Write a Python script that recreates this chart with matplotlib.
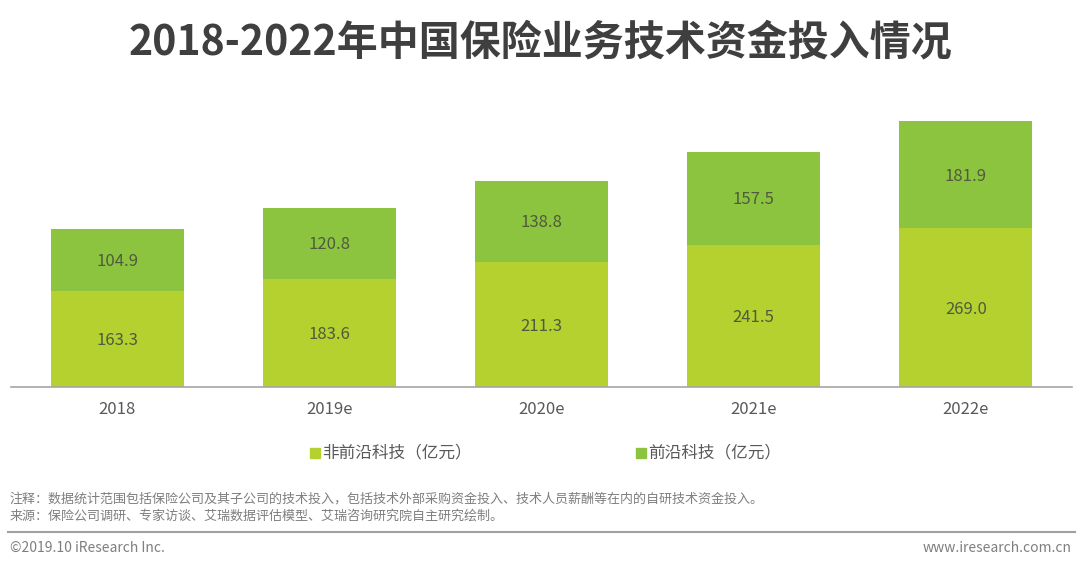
import numpy as np
import matplotlib.pyplot as plt
from matplotlib.patches import Rectangle
from matplotlib.lines import Line2D

plt.rcParams['font.family'] = ['Noto Sans CJK SC', 'DejaVu Sans']

years = ['2018', '2019e', '2020e', '2021e', '2022e']
non_frontier = [163.3, 183.6, 211.3, 241.5, 269.0]
frontier = [104.9, 120.8, 138.8, 157.5, 181.9]
series_names = ['非前沿科技（亿元）', '前沿科技（亿元）']

title = '2018-2022年中国保险业务技术资金投入情况'
note = '注释：数据统计范围包括保险公司及其子公司的技术投入，包括技术外部采购资金投入、技术人员薪酬等在内的自研技术资金投入。'
source = '来源：保险公司调研、专家访谈、艾瑞数据评估模型、艾瑞咨询研究院自主研究绘制。'

c_bottom = '#b4d12f'
c_top = '#8cc43f'
c_label = '#4f5b3c'

fig = plt.figure(figsize=(10.8, 5.64), dpi=100)
ax = fig.add_axes([11 / 1080, 177 / 564, 1061 / 1080, 287 / 564])

x = np.arange(len(years))
w = 0.627
ax.bar(x, non_frontier, w, color=c_bottom)
ax.bar(x, frontier, w, bottom=non_frontier, color=c_top)

for i in range(len(years)):
    ax.text(x[i], non_frontier[i] / 2 - 3, f'{non_frontier[i]:.1f}', ha='center', va='center',
            fontsize=12, color=c_label)
    ax.text(x[i], non_frontier[i] + frontier[i] / 2 - 2, f'{frontier[i]:.1f}', ha='center', va='center',
            fontsize=12, color=c_label)

ax.set_xlim(-0.5, 4.5)
ax.set_ylim(0, 487)
ax.set_xticks(x)
ax.set_xticklabels(years, fontsize=12, color='#595959')
ax.tick_params(axis='x', length=0, pad=10)
ax.set_yticks([])
for s in ['top', 'right', 'left']:
    ax.spines[s].set_visible(False)
ax.spines['bottom'].set_color('#a6a6a6')
ax.spines['bottom'].set_linewidth(1.2)

# title
fig.text(0.5, 1 - 42 / 564, title, ha='center', va='center', fontsize=29.5,
         fontweight='bold', color='#3f3f3f')

# legend
for mx, txt, col in [(310, series_names[0], c_bottom), (636, series_names[1], c_top)]:
    fig.patches.append(Rectangle((mx / 1080, 1 - 458 / 564), 10 / 1080, 10 / 564,
                                 transform=fig.transFigure, color=col))
    fig.text((mx + 12) / 1080, 1 - 453 / 564, txt, ha='left', va='center',
             fontsize=12, color='#595959')

# notes
fig.text(10 / 1080, 1 - 499 / 564, note, ha='left', va='center', fontsize=9.4, color='#7f7f7f')
fig.text(10 / 1080, 1 - 516 / 564, source, ha='left', va='center', fontsize=9.4, color='#7f7f7f')
fig.lines.append(Line2D([8 / 1080, 1075 / 1080], [1 - 532 / 564, 1 - 532 / 564],
                        transform=fig.transFigure, color='#a0a0a0', linewidth=1.5))
fig.text(10 / 1080, 1 - 548 / 564, '©2019.10 iResearch Inc.', ha='left', va='center',
         fontsize=10, color='#7f7f7f')
fig.text(1072 / 1080, 1 - 548 / 564, 'www.iresearch.com.cn', ha='right', va='center',
         fontsize=10, color='#7f7f7f')

fig.savefig('out.png', dpi=100)
